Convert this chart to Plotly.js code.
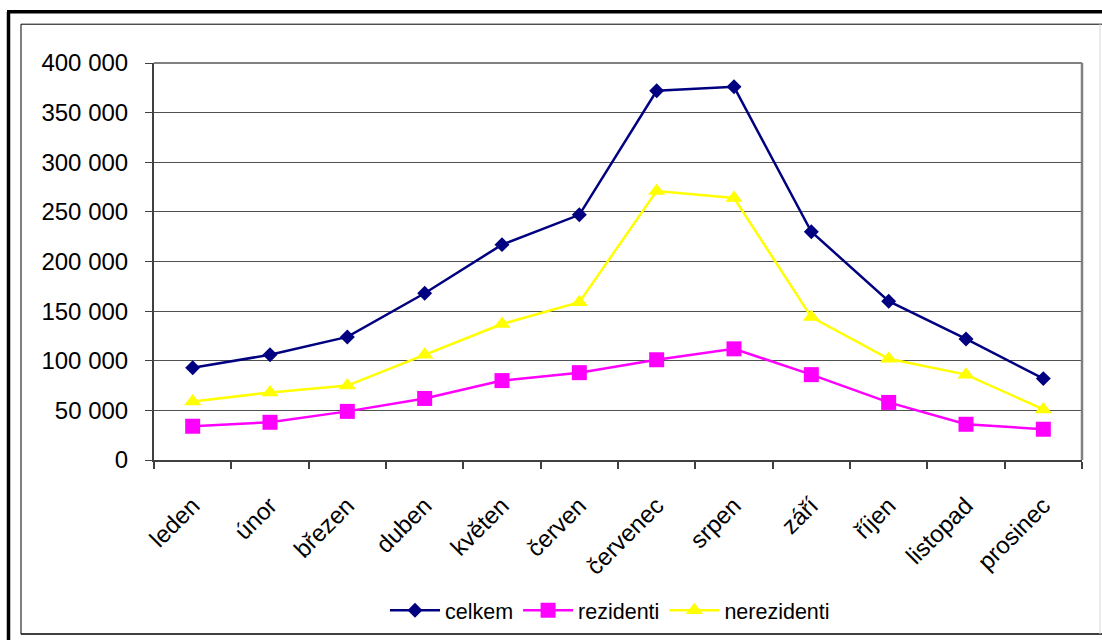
<!DOCTYPE html>
<html>
<head>
<meta charset="utf-8">
<script src="https://cdn.plot.ly/plotly-3.0.1.min.js"></script>
<style>
html,body{margin:0;padding:0;background:#fff;}
#chart{width:1102px;height:643px;}
</style>
</head>
<body>
<div id="chart"></div>
<script>
const months = ["leden","únor","březen","duben","květen","červen","červenec","srpen","září","říjen","listopad","prosinec"];
const celkem = [93000,106000,124000,168000,217000,247000,372000,376000,230000,160000,122000,82000];
const rezidenti = [34000,38000,49000,62000,80000,88000,101000,112000,86000,58000,36000,31000];
const nerezidenti = [59000,68000,75000,106000,137000,159000,271000,264000,144000,102000,86000,51000];
const yTicks = [0,50000,100000,150000,200000,250000,300000,350000,400000];

const W = 1102, H = 643;
const L = 154, R = 1082, T = 63, B = 462;
function px(x){ return (x - L) / (R - L); }
function py(y){ return (B - y) / (B - T); }
function line(x0,y0,x1,y1,color,width){
  return {type:'line', xref:'paper', yref:'paper', x0:px(x0), y0:py(y0), x1:px(x1), y1:py(y1),
    line:{color:color, width:width}, layer:'above'};
}

const font = {family:'"Liberation Sans", Arial, sans-serif', color:'#000'};

const traces = [
  {x: months, y: celkem, name:'celkem', type:'scatter', mode:'lines+markers',
   line:{color:'#000080', width:2.5}, marker:{symbol:'diamond', size:11.5, color:'#000080'}, cliponaxis:false},
  {x: months, y: rezidenti, name:'rezidenti', type:'scatter', mode:'lines+markers',
   line:{color:'#FF00FF', width:2.5}, marker:{symbol:'square', size:15, color:'#FF00FF'}, cliponaxis:false},
  {x: months, y: nerezidenti, name:'nerezidenti', type:'scatter', mode:'lines+markers',
   line:{color:'#FFFF00', width:2.5}, marker:{symbol:'triangle-up', size:15, color:'#FFFF00'}, cliponaxis:false}
];

const layout = {
  width: W, height: H,
  margin:{l:L, r:W-R, t:T, b:H-B, pad:0},
  paper_bgcolor:'#fff', plot_bgcolor:'#fff',
  separators:', ',
  font: Object.assign({size:21}, font),
  showlegend:true,
  legend:{orientation:'h', x:px(610), xanchor:'center', y:py(613), yanchor:'middle',
    font: Object.assign({size:21.5}, font), bgcolor:'rgba(0,0,0,0)', itemwidth:50, tracegroupgap:0},
  xaxis:{type:'category', range:[-0.5,11.5], tickangle:-45, tickson:'boundaries',
    ticks:'outside', ticklen:7, tickcolor:'#404040', tickwidth:2,
    showline:true, linecolor:'#404040', linewidth:2, showgrid:false, zeroline:false,
    tickfont: Object.assign({size:24}, font), ticklabelstandoff:20, fixedrange:true},
  yaxis:{range:[0,400000], tickvals:yTicks, tickformat:',d',
    ticks:'outside', ticklen:7, tickcolor:'#404040', tickwidth:1,
    showline:true, linecolor:'#404040', linewidth:2, showgrid:true, gridcolor:'#505050', gridwidth:1,
    zeroline:false, tickfont: Object.assign({size:24}, font), ticklabelstandoff:12, fixedrange:true},
  shapes:[
    line(154,63,1082,63,'#808080',2),
    line(1082,63,1082,462,'#808080',2.5),
    line(8.5,11.5,8.5,643,'#000',3.5),
    line(7,11.5,1102,11.5,'#000',3.5),
    line(21,24,1102,24,'#000',1),
    line(21,24,21,637,'#000',1),
    line(21,637,1102,637,'#000',1.5),
    line(1100,24,1100,637,'#d8d8d8',1)
  ]
};

Plotly.newPlot('chart', traces, layout, {displayModeBar:false, staticPlot:true});
</script>
</body>
</html>
